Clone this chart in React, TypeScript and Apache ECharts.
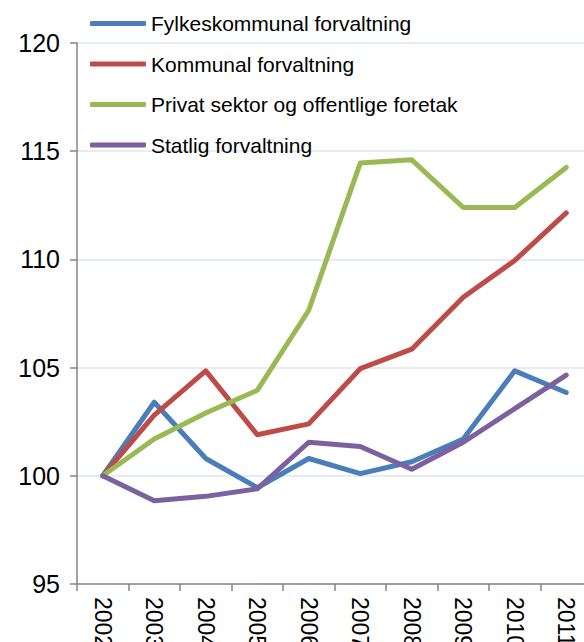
import React, { useEffect, useRef } from "react";
import * as echarts from "echarts";

const years = ["2002", "2003", "2004", "2005", "2006", "2007", "2008", "2009", "2010", "2011"];
const fylkeskommunal = [100, 103.4, 100.8, 99.45, 100.8, 100.1, 100.65, 101.7, 104.85, 103.85];
const kommunal = [100, 102.8, 104.85, 101.9, 102.4, 104.95, 105.85, 108.25, 109.95, 112.15];
const privat = [100, 101.7, 102.9, 103.95, 107.65, 114.45, 114.6, 112.4, 112.4, 114.25];
const statlig = [100, 98.85, 99.05, 99.4, 101.55, 101.35, 100.3, 101.55, 103.1, 104.65];

const seriesNames = [
  "Fylkeskommunal forvaltning",
  "Kommunal forvaltning",
  "Privat sektor og offentlige foretak",
  "Statlig forvaltning",
];
const colors = ["#4a7ebb", "#be4b48", "#98b954", "#7d60a0"];

export default function App() {
  const ref = useRef<HTMLDivElement>(null);
  useEffect(() => {
    if (!ref.current) return;
    const chart = echarts.init(ref.current, null, { renderer: "svg" });
    const font = "Liberation Sans, Arial, sans-serif";
    const data = [fylkeskommunal, kommunal, privat, statlig];
    chart.setOption({
      animation: false,
      color: colors,
      textStyle: { fontFamily: font },
      grid: { left: 77, top: 43, bottom: 58, right: -8, containLabel: false, outerBoundsMode: "none" },
      legend: {
        orient: "vertical",
        left: 90,
        top: 13,
        padding: 0,
        itemWidth: 56,
        itemHeight: 5,
        itemGap: 19.5,
        icon: "roundRect",
        textStyle: { fontSize: 21, color: "#000", fontFamily: font, lineHeight: 20 },
        data: seriesNames,
      },
      xAxis: {
        type: "category",
        data: years,
        boundaryGap: true,
        axisLine: { lineStyle: { color: "#868686", width: 1.5 } },
        axisTick: { show: true, length: 7, lineStyle: { color: "#868686", width: 1.5 } },
        axisLabel: { rotate: -90, fontSize: 23, color: "#000", margin: 13, fontFamily: font },
        splitLine: { show: false },
      },
      yAxis: {
        type: "value",
        min: 95,
        max: 120,
        interval: 5,
        axisLine: { show: true, lineStyle: { color: "#868686", width: 1.5 } },
        axisTick: { show: true, length: 7, lineStyle: { color: "#868686", width: 1.5 } },
        axisLabel: { fontSize: 25, color: "#000", margin: 17, fontFamily: font },
        splitLine: { show: true, lineStyle: { color: "#dce6f2", width: 1.5 } },
      },
      series: seriesNames.map((name, i) => ({
        name,
        type: "line",
        data: data[i],
        showSymbol: false,
        symbol: "none",
        lineStyle: { width: 5, color: colors[i], cap: "round", join: "round" },
        itemStyle: { color: colors[i] },
        z: 2 + i,
      })),
    });
    return () => chart.dispose();
  }, []);
  return <div ref={ref} style={{ width: 584, height: 642, position: "absolute", left: 0, top: 0 }} />;
}
